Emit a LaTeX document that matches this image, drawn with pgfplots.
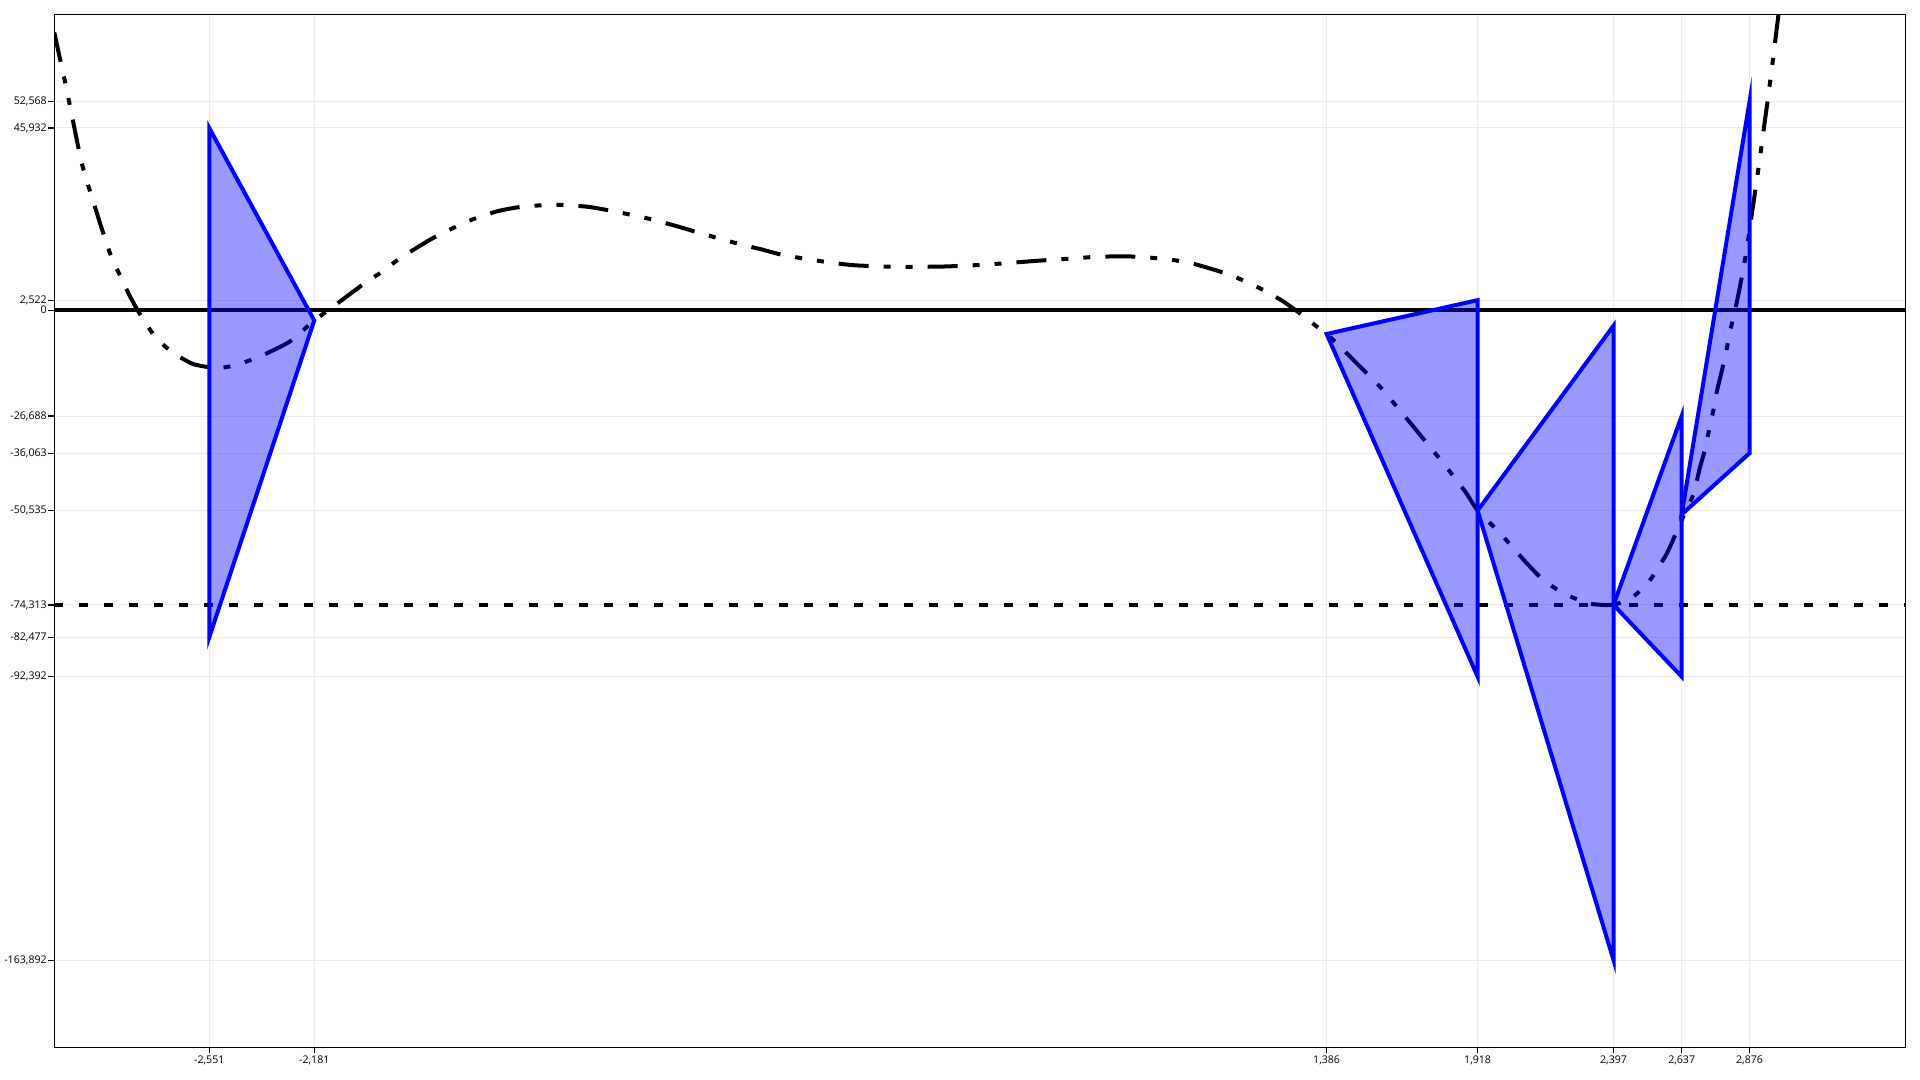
\documentclass[border=0pt]{standalone}
\usepackage{fontspec}
\setmainfont{Open Sans}
\usepackage{pgfplots}
\pgfplotsset{compat=1.18}

\begin{document}
\begin{tikzpicture}
\begin{axis}[
    at={(0,0)}, anchor=south west,
    scale only axis,
    width=925.5pt, height=516.6pt,
    xmin=-3.097, xmax=3.425,
    ymin=-185.9, ymax=74.6,
    axis line style={black, line width=0.75pt},
    tick pos=left,
    tick align=outside,
    major tick length=3pt,
    every tick/.style={black, line width=0.6pt},
    grid=major,
    major grid style={gray!16, line width=0.5pt},
    tick label style={font=\fontsize{5.3}{6}\selectfont},
    xtick={-2.551,-2.181,1.386,1.918,2.397,2.637,2.876},
    xticklabels={{-2,551},{-2,181},{1,386},{1,918},{2,397},{2,637},{2,876}},
    ytick={-163.892,-92.392,-82.477,-74.313,-50.535,-36.063,-26.688,0,2.522,45.932,52.568},
    yticklabels={{-163,892},{-92,392},{-82,477},{-74,313},{-50,535},{-36,063},{-26,688},{0},{2,522},{45,932},{52,568}},
    yticklabel style={inner sep=0.6pt},
    xticklabel style={inner sep=1pt},
    tri/.style={draw=blue, line width=2pt, fill=blue, fill opacity=0.4, miter limit=13},
]

% zero line and level line
\addplot[black, line width=2pt] coordinates {(-3.097,0) (3.425,0)};
\addplot[black, line width=2pt, dash pattern=on 4.2pt off 8.3pt] coordinates {(-3.097,-74.313) (3.425,-74.313)};

% function
\addplot[black, line width=2pt, smooth, tension=0.35,
    dash pattern=on 15pt off 7.5pt on 3.5pt off 7.5pt on 3.5pt off 7.5pt] coordinates {
    (-3.097,70.0) (-3.071,61.4) (-3.053,55.5) (-3.001,37.3) (-2.954,26.1)
    (-2.901,14.4) (-2.836,4.3) (-2.801,-0.3) (-2.742,-6.7) (-2.678,-10.8)
    (-2.607,-13.6) (-2.525,-14.6) (-2.454,-13.8) (-2.361,-11.3) (-2.267,-7.9)
    (-2.181,-2.6) (-2.090,2.2) (-1.996,7.2) (-1.950,9.3) (-1.879,13.1)
    (-1.832,15.2) (-1.762,18.2) (-1.644,22.3) (-1.538,24.9) (-1.456,26.0)
    (-1.339,26.6) (-1.221,26.1) (-1.139,25.1) (-1.022,23.4) (-0.910,21.3)
    (-0.834,19.7) (-0.716,17.3) (-0.599,15.2) (-0.529,13.9) (-0.411,12.5)
    (-0.293,11.4) (-0.211,11.1) (-0.117,10.9) (0.035,11.0) (0.165,11.4)
    (0.247,11.8) (0.376,12.5) (0.505,13.1) (0.587,13.5) (0.717,13.5)
    (0.840,12.7) (0.922,11.6) (1.046,8.9) (1.163,5.1) (1.233,2.2)
    (1.292,-0.8) (1.374,-5.4) (1.386,-6.0) (1.421,-8.3) (1.492,-13.4)
    (1.574,-19.3) (1.662,-26.8) (1.715,-31.4) (1.797,-38.6) (1.874,-45.7)
    (1.918,-50.5) (1.997,-56.2) (2.091,-63.8) (2.155,-68.4) (2.232,-71.8)
    (2.314,-74.0) (2.397,-74.3) (2.467,-72.2) (2.526,-68.0) (2.585,-61.3)
    (2.643,-52.0) (2.678,-46.5) (2.702,-39.5) (2.719,-35.2) (2.737,-29.0)
    (2.749,-25.1) (2.760,-20.8) (2.790,-11.8) (2.807,-5.5) (2.825,-0.1)
    (2.843,6.2) (2.866,15.2) (2.884,24.2) (2.895,29.5) (2.913,38.5)
    (2.925,45.0) (2.942,54.0) (2.960,64.0) (2.978,74.5) (2.990,81.0)
};

% triangles
\addplot[tri] coordinates {(-2.551,45.932) (-2.181,-2.6) (-2.551,-82.477)} -- cycle;
\addplot[tri] coordinates {(1.386,-6.0) (1.918,2.522) (1.918,-92.392)} -- cycle;
\addplot[tri] coordinates {(1.918,-50.535) (2.397,-3.9) (2.397,-163.892)} -- cycle;
\addplot[tri] coordinates {(2.397,-74.313) (2.637,-26.688) (2.637,-92.392)} -- cycle;
\addplot[tri] coordinates {(2.637,-51.5) (2.876,52.568) (2.876,-36.063)} -- cycle;

\end{axis}
\pgfresetboundingbox
\path (-27.15pt,-16.25pt) rectangle (932.85pt,523.75pt);
\end{tikzpicture}
\end{document}
